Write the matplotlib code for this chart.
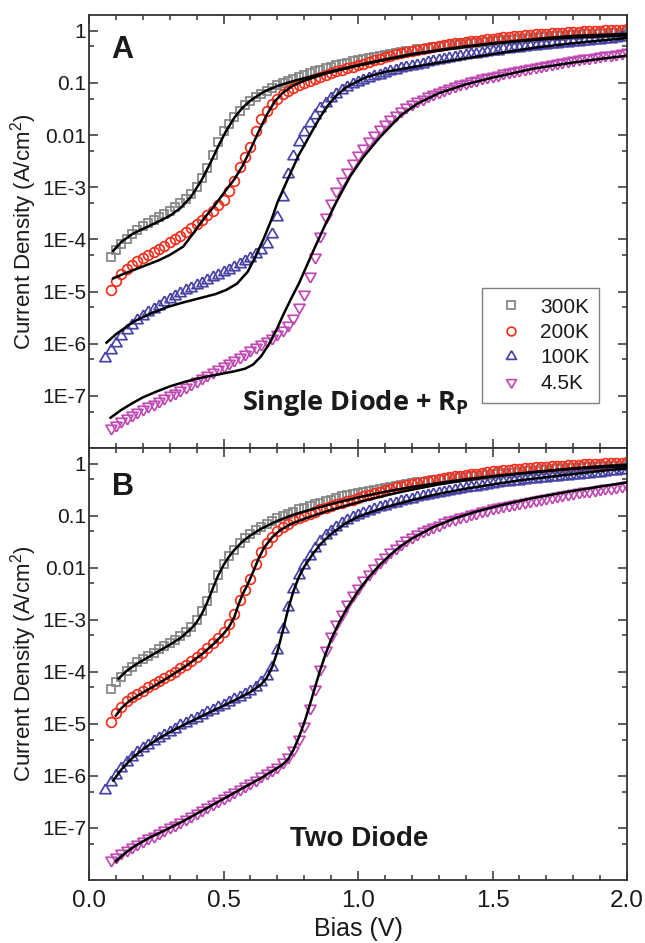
import numpy as np
import matplotlib
matplotlib.use("Agg")
import matplotlib.pyplot as plt
from matplotlib.lines import Line2D
from matplotlib.ticker import FixedLocator, FixedFormatter, MultipleLocator, NullFormatter

plt.rcParams["font.family"] = ["Liberation Sans", "DejaVu Sans"]
plt.rcParams["mathtext.fontset"] = "custom"
plt.rcParams["mathtext.rm"] = "Liberation Sans"

# ---------------- measured data (bias in V, log10 of current density in A/cm^2) -------------
bias = [0.08, 0.10, 0.12, 0.14, 0.16, 0.18, 0.20, 0.22, 0.24, 0.26,
        0.28, 0.30, 0.32, 0.34, 0.36, 0.38, 0.40, 0.42, 0.44, 0.46,
        0.48, 0.50, 0.52, 0.54, 0.56, 0.58, 0.60, 0.62, 0.64, 0.66,
        0.68, 0.70, 0.72, 0.74, 0.76, 0.78, 0.80, 0.82, 0.84, 0.86,
        0.88, 0.90, 0.92, 0.94, 0.96, 0.98, 1.00, 1.02, 1.04, 1.06,
        1.08, 1.10, 1.12, 1.14, 1.16, 1.18, 1.20, 1.22, 1.24, 1.26,
        1.28, 1.30, 1.32, 1.34, 1.36, 1.38, 1.40, 1.42, 1.44, 1.46,
        1.48, 1.50, 1.52, 1.54, 1.56, 1.58, 1.60, 1.62, 1.64, 1.66,
        1.68, 1.70, 1.72, 1.74, 1.76, 1.78, 1.80, 1.82, 1.84, 1.86,
        1.88, 1.90, 1.92, 1.94, 1.96, 1.98, 2.00]
bias_100K = [0.06] + bias

logJ_300K = [-4.33, -4.20, -4.09, -3.99, -3.90, -3.82, -3.75, -3.69, -3.63, -3.57,
             -3.51, -3.45, -3.38, -3.31, -3.23, -3.13, -3.00, -2.83, -2.63, -2.38,
             -2.13, -1.93, -1.78, -1.65, -1.53, -1.43, -1.35, -1.28, -1.21, -1.15,
             -1.10, -1.05, -1.00, -0.96, -0.92, -0.88, -0.85, -0.81, -0.78, -0.75,
             -0.72, -0.69, -0.66, -0.63, -0.61, -0.58, -0.56, -0.54, -0.52, -0.50,
             -0.48, -0.46, -0.44, -0.42, -0.41, -0.39, -0.38, -0.36, -0.35, -0.33,
             -0.32, -0.31, -0.30, -0.28, -0.27, -0.26, -0.25, -0.24, -0.23, -0.22,
             -0.21, -0.20, -0.19, -0.18, -0.18, -0.17, -0.16, -0.15, -0.14, -0.14,
             -0.13, -0.12, -0.11, -0.11, -0.10, -0.09, -0.09, -0.08, -0.07, -0.07,
             -0.06, -0.06, -0.05, -0.05, -0.04, -0.04, -0.03]

logJ_200K = [-4.97, -4.80, -4.67, -4.57, -4.49, -4.42, -4.36, -4.30, -4.24, -4.18,
             -4.12, -4.06, -4.00, -3.93, -3.86, -3.79, -3.71, -3.63, -3.54, -3.45,
             -3.35, -3.24, -3.08, -2.88, -2.62, -2.42, -2.22, -1.93, -1.70, -1.53,
             -1.40, -1.30, -1.22, -1.15, -1.09, -1.04, -1.00, -0.96, -0.92, -0.88,
             -0.85, -0.81, -0.78, -0.75, -0.72, -0.69, -0.66, -0.63, -0.60, -0.57,
             -0.54, -0.51, -0.48, -0.45, -0.43, -0.41, -0.39, -0.37, -0.35, -0.33,
             -0.31, -0.29, -0.27, -0.26, -0.24, -0.23, -0.21, -0.20, -0.19, -0.17,
             -0.16, -0.15, -0.14, -0.13, -0.12, -0.11, -0.10, -0.09, -0.08, -0.07,
             -0.07, -0.06, -0.05, -0.04, -0.04, -0.03, -0.02, -0.02, -0.01, -0.01,
             0.00, 0.00, 0.01, 0.01, 0.02, 0.02, 0.03]

logJ_100K = [-6.27,
             -6.12, -5.98, -5.85, -5.74, -5.64, -5.55, -5.47, -5.40, -5.33, -5.27,
             -5.21, -5.15, -5.09, -5.03, -4.98, -4.93, -4.88, -4.83, -4.78, -4.73,
             -4.68, -4.63, -4.58, -4.53, -4.48, -4.42, -4.36, -4.29, -4.20, -4.08,
             -3.90, -3.58, -3.18, -2.75, -2.40, -2.14, -1.94, -1.77, -1.62, -1.49,
             -1.38, -1.29, -1.21, -1.14, -1.08, -1.03, -0.98, -0.94, -0.90, -0.87,
             -0.84, -0.81, -0.78, -0.75, -0.72, -0.70, -0.67, -0.65, -0.63, -0.60,
             -0.58, -0.56, -0.54, -0.52, -0.50, -0.49, -0.47, -0.45, -0.44, -0.42,
             -0.41, -0.39, -0.38, -0.36, -0.35, -0.34, -0.33, -0.31, -0.30, -0.29,
             -0.28, -0.27, -0.26, -0.25, -0.24, -0.23, -0.22, -0.21, -0.20, -0.19,
             -0.18, -0.17, -0.16, -0.15, -0.14, -0.13, -0.12]

logJ_4K5 = [-7.62, -7.56, -7.49, -7.43, -7.37, -7.31, -7.26, -7.20, -7.15, -7.10,
            -7.04, -6.99, -6.94, -6.88, -6.83, -6.77, -6.72, -6.66, -6.60, -6.54,
            -6.48, -6.43, -6.37, -6.31, -6.25, -6.19, -6.13, -6.07, -6.01, -5.95,
            -5.89, -5.82, -5.74, -5.64, -5.50, -5.30, -5.04, -4.70, -4.33, -3.94,
            -3.58, -3.31, -3.08, -2.88, -2.70, -2.53, -2.38, -2.24, -2.12, -2.00,
            -1.89, -1.79, -1.70, -1.62, -1.54, -1.47, -1.41, -1.35, -1.30, -1.25,
            -1.21, -1.17, -1.13, -1.09, -1.06, -1.03, -1.00, -0.97, -0.94, -0.91,
            -0.89, -0.86, -0.84, -0.82, -0.80, -0.78, -0.76, -0.74, -0.72, -0.70,
            -0.68, -0.66, -0.64, -0.62, -0.60, -0.58, -0.56, -0.55, -0.53, -0.52,
            -0.50, -0.49, -0.47, -0.46, -0.44, -0.43, -0.41]

# ---------------- fits, panel A: single diode + Rp -------------
fitA_300K_v = [0.09, 0.12, 0.16, 0.20, 0.25, 0.30, 0.34, 0.38, 0.42, 0.45, 0.48, 0.51, 0.54, 0.57,
               0.60, 0.65, 0.70, 0.75, 0.80, 0.90, 1.00, 1.10, 1.20, 1.30, 1.40, 1.50, 1.60,
               1.70, 1.80, 1.90, 2.00]
fitA_300K = [-4.22, -4.05, -3.90, -3.80, -3.68, -3.55, -3.40, -3.18, -2.85, -2.55, -2.22, -1.92,
             -1.67, -1.48, -1.34, -1.17, -1.06, -0.98, -0.91, -0.78, -0.66, -0.55, -0.45, -0.37,
             -0.30, -0.24, -0.19, -0.14, -0.10, -0.08, -0.06]

fitA_200K_v = [0.09, 0.12, 0.165, 0.21, 0.26, 0.30, 0.35, 0.39, 0.41, 0.44, 0.46, 0.50, 0.54,
               0.57, 0.60, 0.63, 0.66, 0.69, 0.72, 0.76, 0.80, 0.88, 1.00, 1.10, 1.20, 1.30,
               1.40, 1.50, 1.60, 1.70, 1.80, 1.90, 2.00]
fitA_200K = [-4.75, -4.68, -4.59, -4.50, -4.40, -4.30, -4.14, -3.87, -3.72, -3.52, -3.40, -3.12,
             -2.85, -2.60, -2.28, -1.94, -1.62, -1.36, -1.19, -1.05, -0.96, -0.82, -0.67, -0.56,
             -0.46, -0.38, -0.31, -0.25, -0.20, -0.16, -0.13, -0.11, -0.09]

fitA_100K_v = [0.065, 0.10, 0.165, 0.23, 0.29, 0.35, 0.41, 0.47, 0.51, 0.55, 0.59, 0.62, 0.65,
               0.68, 0.70, 0.73, 0.75, 0.78, 0.80, 0.83, 0.86, 0.89, 0.92, 0.96, 1.03, 1.10,
               1.20, 1.28, 1.40, 1.50, 1.65, 1.80, 2.00]
fitA_100K = [-5.98, -5.82, -5.58, -5.42, -5.30, -5.21, -5.13, -5.05, -4.97, -4.85, -4.62, -4.32,
             -3.98, -3.60, -3.30, -2.95, -2.72, -2.38, -2.20, -1.92, -1.65, -1.42, -1.24, -1.07,
             -0.89, -0.79, -0.70, -0.63, -0.53, -0.45, -0.33, -0.24, -0.14]

fitA_4K5_v = [0.08, 0.12, 0.165, 0.20, 0.25, 0.30, 0.35, 0.41, 0.47, 0.54, 0.58, 0.61, 0.64,
              0.67, 0.70, 0.72, 0.75, 0.78, 0.81, 0.84, 0.88, 0.92, 0.97, 1.02, 1.08, 1.16,
              1.22, 1.30, 1.40, 1.50, 1.65, 1.80, 1.90, 2.00]
fitA_4K5 = [-7.42, -7.27, -7.13, -7.03, -6.92, -6.82, -6.74, -6.66, -6.60, -6.53, -6.48, -6.40,
            -6.24, -6.00, -5.70, -5.47, -5.15, -4.85, -4.50, -4.15, -3.70, -3.28, -2.80, -2.42,
            -2.05, -1.62, -1.40, -1.20, -1.03, -0.90, -0.73, -0.61, -0.54, -0.48]

# ---------------- fits, panel B: two diode -------------
fitB_300K_v = [0.11, 0.14, 0.18, 0.22, 0.26, 0.30, 0.34, 0.38, 0.40, 0.42, 0.44, 0.46, 0.48,
               0.50, 0.52, 0.54, 0.57, 0.60, 0.64, 0.70, 0.76, 0.84, 0.92, 1.00, 1.10, 1.20,
               1.30, 1.40, 1.50, 1.60, 1.70, 1.80, 1.90, 2.00]
fitB_300K = [-4.13, -3.98, -3.84, -3.72, -3.60, -3.48, -3.35, -3.17, -3.05, -2.88, -2.66, -2.40,
             -2.15, -1.95, -1.79, -1.66, -1.50, -1.38, -1.25, -1.10, -0.98, -0.86, -0.75, -0.65,
             -0.54, -0.45, -0.37, -0.30, -0.24, -0.19, -0.14, -0.10, -0.07, -0.05]

fitB_200K_v = [0.10, 0.12, 0.15, 0.19, 0.24, 0.30, 0.36, 0.42, 0.46, 0.50, 0.52, 0.54, 0.555,
               0.57, 0.59, 0.61, 0.63, 0.65, 0.68, 0.71, 0.75, 0.80, 0.88, 0.96, 1.04, 1.12,
               1.20, 1.30, 1.40, 1.50, 1.60, 1.70, 1.80, 1.90, 2.00]
fitB_200K = [-4.84, -4.70, -4.56, -4.43, -4.28, -4.09, -3.89, -3.66, -3.48, -3.27, -3.14, -2.95,
             -2.72, -2.52, -2.32, -2.08, -1.83, -1.62, -1.42, -1.28, -1.16, -1.06, -0.92, -0.80,
             -0.69, -0.59, -0.50, -0.40, -0.32, -0.25, -0.19, -0.14, -0.09, -0.05, -0.02]

fitB_100K_v = [0.09, 0.12, 0.16, 0.20, 0.25, 0.30, 0.36, 0.42, 0.48, 0.54, 0.60, 0.64, 0.66,
               0.68, 0.70, 0.72, 0.74, 0.76, 0.78, 0.80, 0.83, 0.86, 0.90, 0.95, 1.00, 1.10,
               1.20, 1.30, 1.40, 1.50, 1.60, 1.70, 1.80, 1.90, 2.00]
fitB_100K = [-6.09, -5.88, -5.66, -5.49, -5.31, -5.16, -5.00, -4.85, -4.70, -4.55, -4.39, -4.24,
             -4.12, -3.92, -3.62, -3.22, -2.80, -2.45, -2.18, -1.98, -1.75, -1.55, -1.35, -1.16,
             -1.02, -0.84, -0.70, -0.58, -0.48, -0.40, -0.32, -0.26, -0.20, -0.14, -0.09]

fitB_4K5_v = [0.10, 0.13, 0.17, 0.22, 0.28, 0.35, 0.42, 0.50, 0.58, 0.64, 0.69, 0.72, 0.74,
              0.76, 0.78, 0.80, 0.82, 0.84, 0.86, 0.88, 0.90, 0.93, 0.96, 1.00, 1.04, 1.08,
              1.12, 1.16, 1.20, 1.28, 1.36, 1.44, 1.53, 1.65, 1.78, 1.90, 2.00]
fitB_4K5 = [-7.64, -7.50, -7.35, -7.20, -7.05, -6.87, -6.67, -6.44, -6.21, -6.04, -5.88, -5.78,
            -5.68, -5.50, -5.26, -4.98, -4.65, -4.30, -3.96, -3.65, -3.38, -3.05, -2.77, -2.45,
            -2.18, -1.95, -1.75, -1.58, -1.44, -1.22, -1.05, -0.92, -0.80, -0.66, -0.54, -0.44,
            -0.36]

labels = ["300K", "200K", "100K", "4.5K"]
ytick_values = [1e-7, 1e-6, 1e-5, 1e-4, 1e-3, 1e-2, 1e-1, 1]
ytick_labels = ["1E-7", "1E-6", "1E-5", "1E-4", "1E-3", "0.01", "0.1", "1"]
yminor_values = [5e-8, 5e-7, 5e-6, 5e-5, 5e-4, 5e-3, 5e-2, 5e-1]

# ---------------- styling -------------
colors = ["#848484", "#f2301f", "#4744a6", "#c04ab3"]
tri_up = [(0, 0.577), (-0.5, -0.289), (0.5, -0.289), (0, 0.577)]
tri_dn = [(0, -0.577), (-0.5, 0.289), (0.5, 0.289), (0, -0.577)]
markers = ["s", "o", tri_up, tri_dn]
msizes = [6.4, 7.0, 9.2, 9.2]
MEW = 1.25
TXT = "#1a1a1a"

data_x = [bias, bias, bias_100K, bias]
data_y = [logJ_300K, logJ_200K, logJ_100K, logJ_4K5]
fitsA = [(fitA_300K_v, fitA_300K), (fitA_200K_v, fitA_200K),
         (fitA_100K_v, fitA_100K), (fitA_4K5_v, fitA_4K5)]
fitsB = [(fitB_300K_v, fitB_300K), (fitB_200K_v, fitB_200K),
         (fitB_100K_v, fitB_100K), (fitB_4K5_v, fitB_4K5)]

W, H = 645, 943
fig = plt.figure(figsize=(W / 100, H / 100), dpi=100)
left, right = 89, 627
axA = fig.add_axes([left / W, 1 - 448 / H, (right - left) / W, 433 / H])
axB = fig.add_axes([left / W, 1 - 880 / H, (right - left) / W, 432 / H])

for ax, fits in ((axA, fitsA), (axB, fitsB)):
    for i in range(4):
        ax.plot(data_x[i], 10 ** np.array(data_y[i]), ls="none", marker=markers[i],
                ms=msizes[i], mfc="none", mec=colors[i], mew=MEW, zorder=2)
    for fv, fy in fits:
        ax.plot(fv, 10 ** np.array(fy), color="black", lw=1.8, zorder=3)
    ax.set_yscale("log")
    ax.set_ylim(1e-8, 2)
    ax.set_xlim(0, 2.0)
    ax.yaxis.set_major_locator(FixedLocator(ytick_values))
    ax.yaxis.set_major_formatter(FixedFormatter(ytick_labels))
    ax.yaxis.set_minor_locator(FixedLocator(yminor_values))
    ax.yaxis.set_minor_formatter(NullFormatter())
    ax.xaxis.set_major_locator(MultipleLocator(0.5))
    ax.xaxis.set_minor_locator(MultipleLocator(0.1))
    ax.tick_params(which="both", direction="in", top=True, right=True,
                   width=1.1, color="#333333")
    ax.tick_params(which="major", length=6.5)
    ax.tick_params(which="minor", length=3.8)
    ax.tick_params(axis="y", labelsize=15, pad=2, labelcolor=TXT)
    ax.tick_params(axis="x", labelsize=17.5, pad=7.5, labelcolor=TXT)
    for s in ax.spines.values():
        s.set_linewidth(1.3)
        s.set_color("#333333")
    ax.set_ylabel("Current Density (A/cm$\\mathregular{^2}$)", fontsize=16, color=TXT)
    ax.yaxis.set_label_coords(-0.093, 0.5)

axA.tick_params(axis="x", labelbottom=False)
axB.xaxis.set_major_formatter(FixedFormatter(["0.0", "0.5", "1.0", "1.5", "2.0"]))
axB.xaxis.set_major_locator(FixedLocator([0.0, 0.5, 1.0, 1.5, 2.0]))
axB.set_xlabel("Bias (V)", fontsize=18, color=TXT)
axB.xaxis.set_label_coords(0.5, -0.085)

axA.text(0.042, 0.9007, "A", transform=axA.transAxes, fontsize=22, fontweight="bold",
         color=TXT, va="baseline", ha="left")
axB.text(0.042, 0.891, "B", transform=axB.transAxes, fontsize=22, fontweight="bold",
         color=TXT, va="baseline", ha="left")
axA.text(0.284, 0.0878, "Single Diode + R$\\mathregular{_P}$", transform=axA.transAxes,
         fontsize=19.5, fontweight="bold", family=["Open Sans", "DejaVu Sans"], color=TXT,
         va="baseline", ha="left")
axB.text(0.374, 0.079, "Two Diode", transform=axB.transAxes, fontsize=20,
         fontweight="bold", color=TXT, va="baseline", ha="left")

handles = [Line2D([], [], ls="none", marker=markers[i], ms=msizes[i] * 0.9, mfc="none",
                  mec=colors[i], mew=MEW) for i in range(4)]
leg = axA.legend(handles, labels, loc="upper left", bbox_to_anchor=(0.73, 0.370),
                 borderaxespad=0, fontsize=15, frameon=True, fancybox=False,
                 edgecolor="#808080", framealpha=1, borderpad=0.47, labelspacing=0.31,
                 handlelength=1.9, handletextpad=0.45)
leg.get_frame().set_linewidth(1.0)
for t in leg.get_texts():
    t.set_color(TXT)

fig.savefig("out.png", dpi=100)
